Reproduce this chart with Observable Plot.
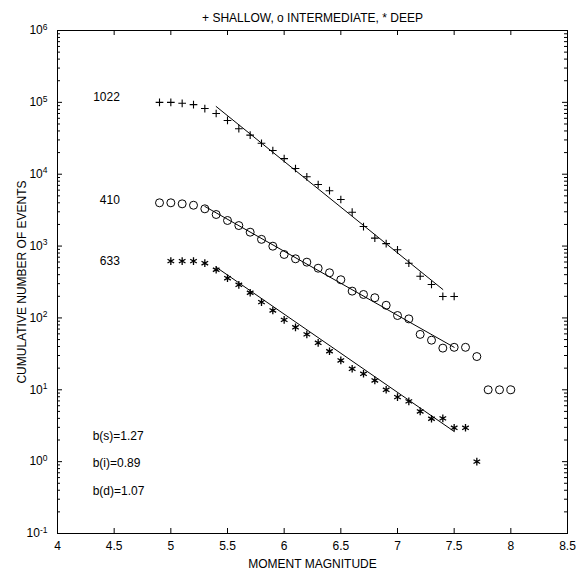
<!DOCTYPE html>
<html><head><meta charset="utf-8">
<script src="https://cdn.jsdelivr.net/npm/d3@7"></script>
<script src="https://cdn.jsdelivr.net/npm/@observablehq/plot@0.6"></script>
<style>body{margin:0;background:#fff} svg{display:block}</style>
</head><body><div id="chart"></div>
<script>
const title = "+ SHALLOW, o INTERMEDIATE, * DEEP";
const xLabel = "MOMENT MAGNITUDE";
const yLabel = "CUMULATIVE NUMBER OF EVENTS";
const xTicks = [4, 4.5, 5, 5.5, 6, 6.5, 7, 7.5, 8, 8.5];
const yTicks = [0.1, 1, 10, 100, 1000, 1e4, 1e5, 1e6];

const magShallow = [4.9,5.0,5.1,5.2,5.3,5.4,5.5,5.6,5.7,5.8,5.9,6.0,6.1,6.2,6.3,6.4,6.5,6.6,6.7,6.8,6.9,7.0,7.1,7.2,7.3,7.4,7.5];
const nShallow = [1.0e5,1.0e5,9.7e4,9.3e4,8.2e4,7.0e4,5.6e4,4.3e4,3.5e4,2.7e4,2.14e4,1.65e4,1.2e4,9.2e3,7.2e3,5.9e3,4.45e3,2.96e3,1.87e3,1.29e3,1.08e3,887,578,381,292,199,199];

const magInter = [4.9,5.0,5.1,5.2,5.3,5.4,5.5,5.6,5.7,5.8,5.9,6.0,6.1,6.2,6.3,6.4,6.5,6.6,6.7,6.8,6.9,7.0,7.1,7.2,7.3,7.4,7.5,7.6,7.7,7.8,7.9,8.0];
const nInter = [4.0e3,4.0e3,3.87e3,3.7e3,3.3e3,2.75e3,2.27e3,1.93e3,1.56e3,1.24e3,996,764,665,597,492,425,340,236,212,191,150,108,97,59,49,38,39,39,29,10,10,10];

const magDeep = [5.0,5.1,5.2,5.3,5.4,5.5,5.6,5.7,5.8,5.9,6.0,6.1,6.2,6.3,6.4,6.5,6.6,6.7,6.8,6.9,7.0,7.1,7.2,7.3,7.4,7.5,7.6,7.7];
const nDeep = [617,617,617,578,468,357,289,224,166,127,94,74,59,45,34.4,25.6,19.6,16.7,13.5,10,7.9,6.9,5.0,3.95,4.0,2.96,2.96,1.0];

// fitted lines (end points)
const fitShallowMag = [5.4, 7.4];
const fitShallowN = [8.75e4, 249];
const fitInterMag = [5.3, 7.5];
const fitInterN = [3.56e3, 39];
const fitDeepMag = [5.4, 7.5];
const fitDeepN = [508, 2.63];

const countLabels = ["1022", "410", "633"];
const countLabelN = [1.2e5, 4.3e3, 610];
const countLabelMag = 4.55;

const bLabels = ["b(s)=1.27", "b(i)=0.89", "b(d)=1.07"];
const bLabelN = [2.24, 0.95, 0.39];
const bLabelMag = 4.31;

const zip = (xs, ys) => xs.map((x, i) => ({x, y: ys[i]}));
const shallow = zip(magShallow, nShallow);
const inter = zip(magInter, nInter);
const deep = zip(magDeep, nDeep);

const minorTicks = [];
for (let e = -1; e < 6; e++) for (let m = 2; m <= 9; m++) minorTicks.push(m * Math.pow(10, e));

const W = 578, H = 574, mL = 57, mR = 11, mT = 30, mB = 41;
const iW = W - mL - mR, iH = H - mT - mB;
const font = "Liberation Sans, Arial, Helvetica, sans-serif";

const chart = Plot.plot({
  width: W, height: H,
  marginLeft: mL, marginRight: mR, marginTop: mT, marginBottom: mB,
  style: {fontFamily: font, fontSize: "12px", color: "black", background: "white"},
  x: {domain: [4, 8.5]},
  y: {type: "log", domain: [0.1, 1e6]},
  marks: [
    Plot.frame({stroke: "black"}),
    Plot.ruleX(xTicks, {x: d => d, insetTop: iH - 5, stroke: "black"}),
    Plot.ruleX(xTicks, {x: d => d, insetBottom: iH - 5, stroke: "black"}),
    Plot.ruleY(yTicks, {y: d => d, insetRight: iW - 5, stroke: "black"}),
    Plot.ruleY(yTicks, {y: d => d, insetLeft: iW - 5, stroke: "black"}),
    Plot.ruleY(minorTicks, {y: d => d, insetRight: iW - 3, stroke: "black"}),
    Plot.ruleY(minorTicks, {y: d => d, insetLeft: iW - 3, stroke: "black"}),
    Plot.axisX({ticks: xTicks, tickSize: 0, tickPadding: 8, tickFormat: d => String(d),
      label: xLabel, labelAnchor: "center", labelOffset: 34, labelArrow: "none"}),
    Plot.axisY({ticks: yTicks, tickSize: 0, tickPadding: 10, tickFormat: d => String(Math.round(Math.log10(d))),
      label: yLabel, labelAnchor: "center", labelOffset: 40, labelArrow: "none"}),
    Plot.line(zip(fitShallowMag, fitShallowN), {x: "x", y: "y", stroke: "black", strokeWidth: 1}),
    Plot.line(zip(fitInterMag, fitInterN), {x: "x", y: "y", stroke: "black", strokeWidth: 1}),
    Plot.line(zip(fitDeepMag, fitDeepN), {x: "x", y: "y", stroke: "black", strokeWidth: 1}),
    Plot.dot(shallow, {x: "x", y: "y", symbol: "plus", r: 2.6, stroke: "black", strokeWidth: 1.1}),
    Plot.dot(inter, {x: "x", y: "y", symbol: "circle", r: 4, stroke: "black", fill: "none", strokeWidth: 1}),
    Plot.dot(deep, {x: "x", y: "y", symbol: "asterisk", r: 3.6, stroke: "black", strokeWidth: 1.3}),
    Plot.text(countLabels, {x: () => countLabelMag, y: (d, i) => countLabelN[i], text: d => d, textAnchor: "end", fill: "black"}),
    Plot.text(bLabels, {x: () => bLabelMag, y: (d, i) => bLabelN[i], text: d => d, textAnchor: "start", fill: "black"}),
    Plot.text([title], {frameAnchor: "top", dy: -17, text: d => d, fill: "black"})
  ]
});

// superscript exponents on y tick labels
chart.querySelectorAll('g[aria-label="y-axis tick label"] text').forEach(t => {
  const e = t.textContent.replace("−", "-");
  t.textContent = "10";
  const ts = document.createElementNS("http://www.w3.org/2000/svg", "tspan");
  ts.setAttribute("dy", "-0.55em");
  ts.setAttribute("font-size", "8.5px");
  ts.textContent = e;
  t.appendChild(ts);
});

document.getElementById("chart").appendChild(chart);
</script>
</body></html>
